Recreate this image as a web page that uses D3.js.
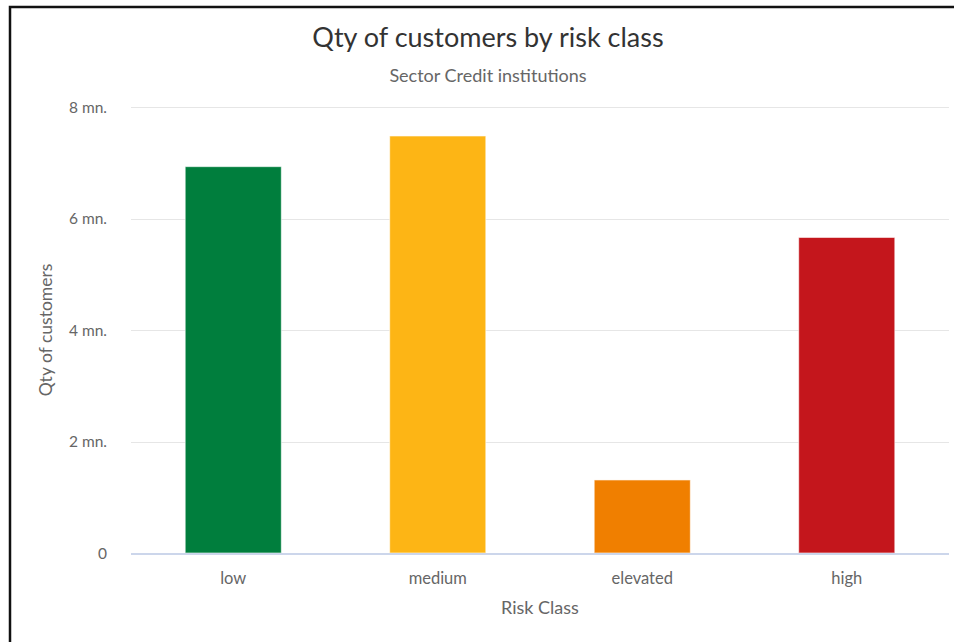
<!DOCTYPE html>
<html>
<head>
<meta charset="utf-8">
<script src="https://cdn.jsdelivr.net/npm/d3@7"></script>
<style>
    body { margin: 0; background: white; }
    svg { display: block; }
</style>
</head>
<body>
<script>
// data (millions)
const riskClasses = ['low', 'medium', 'elevated', 'high']
const customers = [6.93, 7.48, 1.31, 5.66]
const barColors = ['#007e3d', '#fdb515', '#f07f00', '#c4161c']
const yTicks = [0, 2, 4, 6, 8]

const width = 954
const height = 642
const fontFamily = 'Lato, "Open Sans", sans-serif'

const plot = {left: 131, right: 949, top: 107, bottom: 553}

const svg = d3.select('body')
    .append('svg')
    .attr('width', width)
    .attr('height', height)

// frame of the screenshot
svg.append('rect')
    .attr('x', 10)
    .attr('y', 7)
    .attr('width', width + 20)
    .attr('height', height + 20)
    .attr('fill', 'white')
    .attr('stroke', '#111')
    .attr('stroke-width', 2.5)

const x = d3.scaleBand()
    .domain(riskClasses)
    .range([plot.left, plot.right])
    .paddingInner(0.53)
    .paddingOuter(0.265)

const y = d3.scaleLinear()
    .domain([0, 8])
    .range([plot.bottom, plot.top])

// grid
svg.append('g')
    .selectAll('line')
    .data(yTicks.filter(d => d > 0))
    .join('line')
    .attr('x1', plot.left)
    .attr('x2', plot.right)
    .attr('y1', d => Math.round(y(d)) + 0.5)
    .attr('y2', d => Math.round(y(d)) + 0.5)
    .attr('stroke', '#e6e6e6')
    .attr('stroke-width', 1)

// y axis labels
const yAxis = svg.append('g')
    .attr('transform', `translate(${plot.left - 24},0)`)
    .call(d3.axisLeft(y).tickValues(yTicks).tickSize(0).tickFormat(d => d === 0 ? '0' : d + ' mn.'))
yAxis.select('.domain').remove()
yAxis.selectAll('text')
    .attr('x', 0)
    .attr('dy', '0.35em')
    .style('font-family', fontFamily)
    .style('font-size', '15.5px')
    .attr('fill', '#666')

// bars
svg.append('g')
    .selectAll('rect')
    .data(riskClasses)
    .join('rect')
    .attr('x', d => x(d))
    .attr('y', (d, i) => y(customers[i]))
    .attr('width', x.bandwidth())
    .attr('height', (d, i) => y(0) - y(customers[i]))
    .attr('fill', (d, i) => barColors[i])
    .attr('stroke', 'white')
    .attr('stroke-opacity', 0.6)
    .attr('stroke-width', 1)

// x axis line
svg.append('line')
    .attr('x1', plot.left)
    .attr('x2', plot.right)
    .attr('y1', plot.bottom + 1)
    .attr('y2', plot.bottom + 1)
    .attr('stroke', '#ccd6eb')
    .attr('stroke-width', 2)

const xAxis = svg.append('g')
    .attr('transform', `translate(0,${plot.bottom + 2})`)
    .call(d3.axisBottom(x).tickSize(0))
xAxis.select('.domain').remove()
xAxis.selectAll('text')
    .attr('y', 17)
    .attr('dy', '0.71em')
    .style('font-family', fontFamily)
    .style('font-size', '16.5px')
    .attr('fill', '#666')

// titles
svg.append('text')
    .attr('x', 488)
    .attr('y', 47)
    .attr('text-anchor', 'middle')
    .style('font-family', fontFamily)
    .style('font-size', '27px')
    .attr('fill', '#333')
    .text('Qty of customers by risk class')

svg.append('text')
    .attr('x', 488)
    .attr('y', 82)
    .attr('text-anchor', 'middle')
    .style('font-family', fontFamily)
    .style('font-size', '18px')
    .attr('fill', '#666')
    .text('Sector Credit institutions')

svg.append('text')
    .attr('x', 540)
    .attr('y', 614)
    .attr('text-anchor', 'middle')
    .style('font-family', fontFamily)
    .style('font-size', '18px')
    .attr('fill', '#666')
    .text('Risk Class')

svg.append('text')
    .attr('transform', `translate(52,${(plot.top + plot.bottom) / 2}) rotate(-90)`)
    .attr('text-anchor', 'middle')
    .style('font-family', fontFamily)
    .style('font-size', '17.5px')
    .attr('fill', '#666')
    .text('Qty of customers')
</script>
</body>
</html>
